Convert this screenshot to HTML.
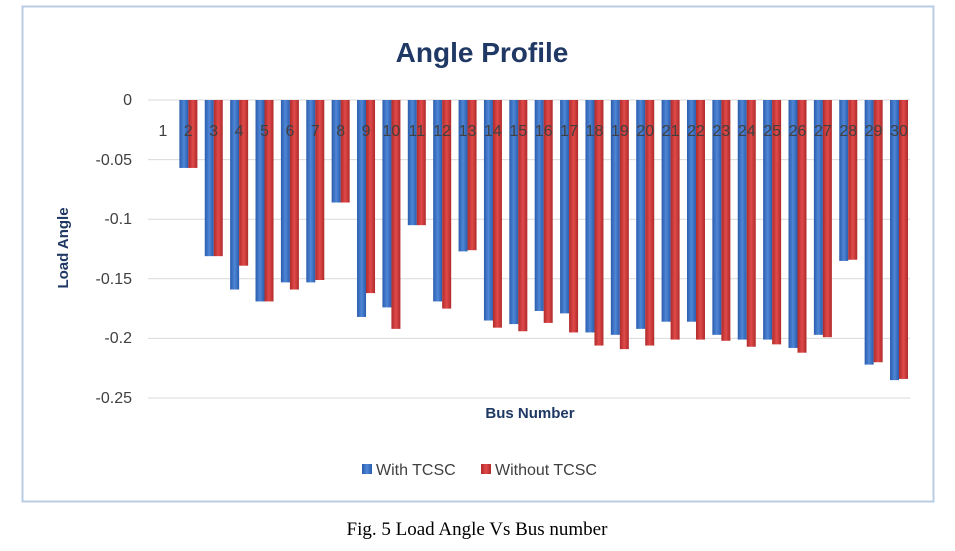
<!DOCTYPE html>
<html><head><meta charset="utf-8"><style>
body{margin:0;background:#fff;width:955px;height:546px;overflow:hidden}
</style></head><body>
<svg width="955" height="546" xmlns="http://www.w3.org/2000/svg" font-family="Liberation Sans, sans-serif">
<defs>
<linearGradient id="b" x1="0" x2="1" y1="0" y2="0"><stop offset="0" stop-color="#2a5cad"/><stop offset="0.5" stop-color="#4f86d6"/><stop offset="1" stop-color="#2a5cad"/></linearGradient>
<linearGradient id="r" x1="0" x2="1" y1="0" y2="0"><stop offset="0" stop-color="#b02a2a"/><stop offset="0.5" stop-color="#e04a4a"/><stop offset="1" stop-color="#b02a2a"/></linearGradient>
</defs>
<rect x="22.5" y="6.5" width="911" height="495" fill="#fff" stroke="#b8cce4" stroke-width="2"/>
<text x="482" y="62" text-anchor="middle" font-size="28" font-weight="bold" fill="#1f3864">Angle Profile</text>
<g stroke="#d9d9d9" stroke-width="1">
<line x1="148" x2="910" y1="100" y2="100"/><line x1="148" x2="910" y1="159.6" y2="159.6"/><line x1="148" x2="910" y1="219.2" y2="219.2"/><line x1="148" x2="910" y1="278.8" y2="278.8"/><line x1="148" x2="910" y1="338.4" y2="338.4"/><line x1="148" x2="910" y1="398" y2="398"/>
</g>
<g font-size="16" fill="#404040" text-anchor="end">
<text x="132" y="105">0</text><text x="132" y="165">-0.05</text><text x="132" y="224">-0.1</text><text x="132" y="284">-0.15</text><text x="132" y="343">-0.2</text><text x="132" y="403">-0.25</text>
</g>
<text transform="translate(68,248) rotate(-90)" text-anchor="middle" font-size="15" font-weight="bold" fill="#1f3864">Load Angle</text>
<text x="530" y="418" text-anchor="middle" font-size="15" font-weight="bold" fill="#1f3864">Bus Number</text>
<g id="bars"></g>
<g id="labs" font-size="16" fill="#404040" text-anchor="middle"></g>
<rect x="362" y="464" width="10" height="10" fill="url(#b)"/><text x="376" y="475" font-size="16" fill="#404040">With TCSC</text>
<rect x="481" y="464" width="10" height="10" fill="url(#r)"/><text x="495" y="475" font-size="16" fill="#404040">Without TCSC</text>
<text x="477" y="535" text-anchor="middle" font-family="Liberation Serif, serif" font-size="19" fill="#000">Fig. 5 Load Angle Vs Bus number</text>
</svg>
<script>
var d=[[0,0],[-.057,-.057],[-.131,-.131],[-.159,-.139],[-.169,-.169],[-.153,-.159],[-.153,-.151],[-.086,-.086],[-.182,-.162],[-.174,-.192],[-.105,-.105],[-.169,-.175],[-.127,-.126],[-.185,-.191],[-.188,-.194],[-.177,-.187],[-.179,-.195],[-.195,-.206],[-.197,-.209],[-.192,-.206],[-.186,-.201],[-.186,-.201],[-.197,-.202],[-.201,-.207],[-.201,-.205],[-.208,-.212],[-.197,-.199],[-.135,-.134],[-.222,-.220],[-.235,-.234]];
var ns="http://www.w3.org/2000/svg",g=document.getElementById('bars'),l=document.getElementById('labs'),s='';var t='';
d.forEach(function(v,i){var c=163+i*25.38;
s+='<rect x="'+(c-9)+'" y="100" width="9" height="'+(-v[0]*1192)+'" fill="url(#b)"/>';
s+='<rect x="'+c+'" y="100" width="9" height="'+(-v[1]*1192)+'" fill="url(#r)"/>';
t+='<text x="'+c+'" y="136">'+(i+1)+'</text>';});
g.innerHTML=s;l.innerHTML=t;
</script>
</body></html>
